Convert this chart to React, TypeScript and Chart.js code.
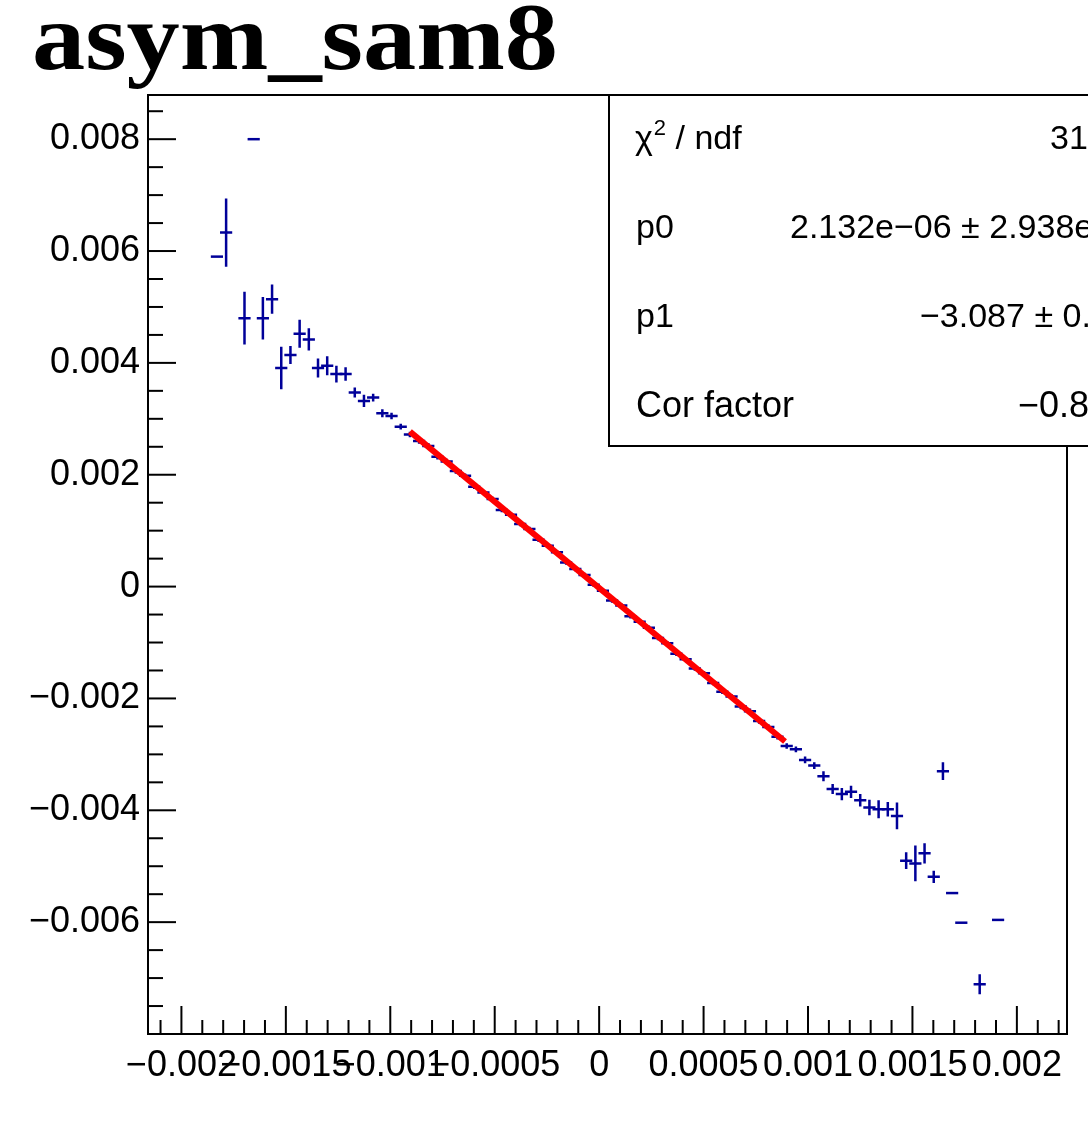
import React, { useEffect, useRef } from 'react';
import { Chart, registerables } from 'chart.js';

Chart.register(...registerables);

// ---------- data ----------
const TITLE = 'asym_sam8';
const X_MIN = -0.00216;
const X_MAX = 0.00224;
const N_BINS = 100;
const Y_MIN = -0.008;
const Y_MAX = 0.00879;

// histogram bins that hold an entry (bin number, 0-based)
const binIndex = [
  7, 8, 10, 11, 12, 13, 14, 15, 16, 17, 18, 19, 20, 21, 22, 23, 24, 25, 26, 27, 28,
  29, 30, 31, 32, 33, 34, 35, 36, 37, 38, 39, 40, 41, 42, 43, 44, 45, 46, 47, 48,
  49, 50, 51, 52, 53, 54, 55, 56, 57, 58, 59, 60, 61, 62, 63, 64, 65, 66, 67, 68,
  69, 70, 71, 72, 73, 74, 75, 76, 77, 78, 79, 80, 81, 82, 83, 84, 85, 86, 87, 88,
  90, 92,
];

const binValue = [
  0.0059, 0.00633, 0.0048, 0.008, 0.0048, 0.00514, 0.00391, 0.00414, 0.00452, 0.00442,
  0.00391, 0.00395, 0.0038, 0.0038, 0.00347, 0.00332, 0.00338, 0.0031, 0.00305, 0.00286, 0.00272,
  0.002602, 0.002516, 0.002321, 0.002235, 0.002069, 0.001983, 0.001787, 0.001681, 0.001566, 0.00137,
  0.001284, 0.001118, 0.001032, 0.000836, 0.000731, 0.000615, 0.000429, 0.000313, 0.000207, 0.000031,
  -0.000075, -0.00025, -0.000336, -0.000532, -0.000628, -0.000734, -0.00092, -0.001015, -0.001201, -0.001297,
  -0.001463, -0.001549, -0.001725, -0.00188, -0.001966, -0.002142, -0.002228, -0.002404, -0.00251, -0.002685,
  -0.00285, -0.00291, -0.0031, -0.0032, -0.00339, -0.00362, -0.00371, -0.00367, -0.00382, -0.00395,
  -0.00398, -0.00398, -0.0041, -0.0049, -0.00495, -0.00477, -0.00519, -0.0033, -0.00548, -0.00601,
  -0.00711, -0.00596,
];

const binError = [
  0, 0.00061, 0.00047, 0, 0.00038, 0.00026, 0.00038, 0.00016, 0.00025, 0.0002,
  0.00017, 0.00017, 0.00015, 0.00012, 0.00009, 0.00011, 0.00007, 0.00007, 0.00006, 0.00005, 0.00005,
  0.00005, 0.00005, 0.00005, 0.00005, 0.00005, 0.00004, 0.00004, 0.00004, 0.00004, 0.00004,
  0.00004, 0.00004, 0.00004, 0.00004, 0.00004, 0.00004, 0.00004, 0.00004, 0.00004, 0.00004,
  0.00004, 0.00004, 0.00004, 0.00004, 0.00004, 0.00004, 0.00004, 0.00004, 0.00004, 0.00004,
  0.00004, 0.00004, 0.00004, 0.00004, 0.00004, 0.00005, 0.00005, 0.00005, 0.00005, 0.00005,
  0.00005, 0.00005, 0.00006, 0.00006, 0.00009, 0.00009, 0.00011, 0.00011, 0.00011, 0.00014,
  0.00016, 0.00013, 0.00024, 0.00015, 0.00032, 0.00018, 0.00011, 0.00016, 0, 0,
  0.00018, 0,
];

// fitted straight line (end points of the drawn fit range)
const fitX = [-0.000906, 0.00089];
const fitY = [0.00277, -0.00277];

const xTickValues = [-0.002, -0.0015, -0.001, -0.0005, 0, 0.0005, 0.001, 0.0015, 0.002];
const xTickLabels = ['\u22120.002', '\u22120.0015', '\u22120.001', '\u22120.0005', '0', '0.0005', '0.001', '0.0015', '0.002'];
const yTickValues = [0.008, 0.006, 0.004, 0.002, 0, -0.002, -0.004, -0.006];
const yTickLabels = ['0.008', '0.006', '0.004', '0.002', '0', '\u22120.002', '\u22120.004', '\u22120.006'];

const statNames = ['\u03C7', 'p0', 'p1', 'Cor factor'];
const statValues = ['31.96 / 38', '2.132e\u221206 \u00B1 2.938e\u221206', '\u22123.087 \u00B1 0.018', '\u22120.866'];

// ---------- styles ----------
const BLUE = '#000099';
const RED = '#ff0000';
const SANS = '"Liberation Sans", Arial, sans-serif';
const BIN_W = (X_MAX - X_MIN) / N_BINS;
const X_MINOR = 0.0001;
const X_MAJOR = 0.0005;
const Y_MINOR = 0.0005;
const Y_MAJOR = 0.002;

const near = (v: number, step: number) => {
  const k = v / step;
  return Math.abs(k - Math.round(k)) < 1e-6;
};
const labelFor = (v: number, vals: number[], labs: string[]) => {
  for (let i = 0; i < vals.length; i++) if (Math.abs(vals[i] - v) < 1e-9) return labs[i];
  return '';
};
const stepTicks = (min: number, max: number, step: number) => {
  const out: { value: number }[] = [];
  for (let k = Math.ceil(min / step - 1e-9); k <= Math.floor(max / step + 1e-9); k++) {
    out.push({ value: Math.round(k * step * 1e9) / 1e9 });
  }
  return out;
};

const errorBarPlugin = {
  id: 'errorBars',
  beforeDatasetsDraw(chart: any) {
    const { ctx, chartArea, scales } = chart;
    const x = scales.x;
    const y = scales.y;
    ctx.save();
    ctx.beginPath();
    ctx.rect(chartArea.left, chartArea.top, chartArea.right - chartArea.left, chartArea.bottom - chartArea.top);
    ctx.clip();
    ctx.strokeStyle = BLUE;
    ctx.lineWidth = 2.5;
    ctx.lineCap = 'butt';
    binIndex.forEach((b, k) => {
      const lo = X_MIN + b * BIN_W;
      const hi = lo + BIN_W;
      const c = lo + BIN_W / 2;
      const px0 = x.getPixelForValue(lo) - 1.5;
      const px1 = x.getPixelForValue(hi) + 1.5;
      const pc = x.getPixelForValue(c);
      const py = y.getPixelForValue(binValue[k]);
      ctx.beginPath();
      ctx.moveTo(px0, py);
      ctx.lineTo(px1, py);
      if (binError[k] > 0) {
        ctx.moveTo(pc, y.getPixelForValue(binValue[k] + binError[k]));
        ctx.lineTo(pc, y.getPixelForValue(binValue[k] - binError[k]));
      }
      ctx.stroke();
    });
    ctx.restore();
  },
};

const framePlugin = {
  id: 'frame',
  afterDraw(chart: any) {
    const { ctx, chartArea, scales } = chart;
    const x = scales.x;
    const y = scales.y;
    const { left, right, top, bottom } = chartArea;
    ctx.save();
    ctx.strokeStyle = '#000';
    ctx.lineWidth = 2;
    // ticks on y axis (inside)
    y.ticks.forEach((t: any) => {
      if (!near(t.value, Y_MINOR)) return;
      const py = y.getPixelForValue(t.value);
      if (py > bottom - 1 || py < top + 1) return;
      const len = near(t.value, Y_MAJOR) ? 28 : 15;
      ctx.beginPath();
      ctx.moveTo(left, py);
      ctx.lineTo(left + len, py);
      ctx.stroke();
    });
    // ticks on x axis (inside)
    x.ticks.forEach((t: any) => {
      if (!near(t.value, X_MINOR)) return;
      const px = x.getPixelForValue(t.value);
      if (px < left + 1 || px > right - 1) return;
      const len = near(t.value, X_MAJOR) ? 28 : 14;
      ctx.beginPath();
      ctx.moveTo(px, bottom);
      ctx.lineTo(px, bottom - len);
      ctx.stroke();
    });
    // frame
    ctx.strokeRect(left, top, right - left, bottom - top);

    // stats box
    const bx = 609, by = top, bw = 520, bh = 351;
    ctx.fillStyle = '#fff';
    ctx.fillRect(bx, by, bw, bh);
    ctx.strokeRect(bx, by, bw, bh);
    ctx.fillStyle = '#000';
    ctx.textBaseline = 'alphabetic';
    ctx.textAlign = 'left';
    const rowBase = [149, 238, 327, 417];
    const rowFont = [34, 34, 34, 36];
    const valX = [1050, 790, 920, 1018];
    statNames.forEach((name, i) => {
      ctx.font = `${rowFont[i]}px ${SANS}`;
      if (i === 0) {
        ctx.fillText(name, 635, rowBase[i]);
        const w = ctx.measureText(name).width;
        ctx.font = `22px ${SANS}`;
        ctx.fillText('2', 635 + w + 1, rowBase[i] - 14);
        const w2 = ctx.measureText('2').width;
        ctx.font = `${rowFont[i]}px ${SANS}`;
        ctx.fillText(' / ndf', 635 + w + 1 + w2, rowBase[i]);
      } else {
        ctx.fillText(name, 636, rowBase[i]);
      }
      ctx.fillText(statValues[i], valX[i], rowBase[i]);
    });

    // title
    ctx.font = `bold 96px "Liberation Serif", "Times New Roman", serif`;
    const tw = ctx.measureText(TITLE).width;
    ctx.translate(32, 69);
    ctx.scale(526 / tw, 1);
    ctx.fillText(TITLE, 0, 0);
    ctx.restore();
  },
};

export default function App() {
  const ref = useRef<HTMLCanvasElement | null>(null);
  useEffect(() => {
    const canvas = ref.current;
    if (!canvas) return;
    const points = binIndex.map((b, k) => ({ x: X_MIN + (b + 0.5) * BIN_W, y: binValue[k] }));
    const fitPoints = fitX.map((v, i) => ({ x: v, y: fitY[i] }));
    const chart = new Chart(canvas, {
      type: 'scatter',
      data: {
        datasets: [
          { type: 'scatter', data: points, pointRadius: 0, borderColor: BLUE, backgroundColor: BLUE },
          {
            type: 'line',
            data: fitPoints,
            borderColor: RED,
            borderWidth: 6,
            pointRadius: 0,
            fill: false,
            tension: 0,
          } as any,
        ],
      },
      options: {
        animation: false,
        responsive: false,
        maintainAspectRatio: false,
        layout: { padding: { top: 95, right: 21, left: 0, bottom: 0 } },
        plugins: { legend: { display: false }, tooltip: { enabled: false }, title: { display: false } },
        scales: {
          x: {
            type: 'linear',
            min: X_MIN,
            max: X_MAX,
            afterBuildTicks: (s: any) => { s.ticks = stepTicks(X_MIN, X_MAX, X_MINOR); },
            afterFit: (s: any) => { s.height = 94; },
            grid: { display: false, drawTicks: false },
            border: { display: false },
            ticks: {
              autoSkip: false,
              maxRotation: 0,
              minRotation: 0,
              padding: 10,
              color: '#000',
              font: { family: SANS, size: 36 },
              callback: (v: any) => labelFor(Number(v), xTickValues, xTickLabels),
            },
          },
          y: {
            type: 'linear',
            min: Y_MIN,
            max: Y_MAX,
            afterBuildTicks: (s: any) => { s.ticks = stepTicks(Y_MIN, Y_MAX, Y_MINOR); },
            afterFit: (s: any) => { s.width = 148; },
            grid: { display: false, drawTicks: false },
            border: { display: false },
            ticks: {
              autoSkip: false,
              padding: 8,
              color: '#000',
              font: { family: SANS, size: 36 },
              callback: (v: any) => labelFor(Number(v), yTickValues, yTickLabels),
            },
          },
        },
      } as any,
      plugins: [errorBarPlugin, framePlugin],
    });
    return () => chart.destroy();
  }, []);
  return (
    <div style={{ position: 'absolute', left: 0, top: 0, width: 1088, height: 1128, background: '#fff' }}>
      <canvas ref={ref} width={1088} height={1128} style={{ display: 'block' }} />
    </div>
  );
}
